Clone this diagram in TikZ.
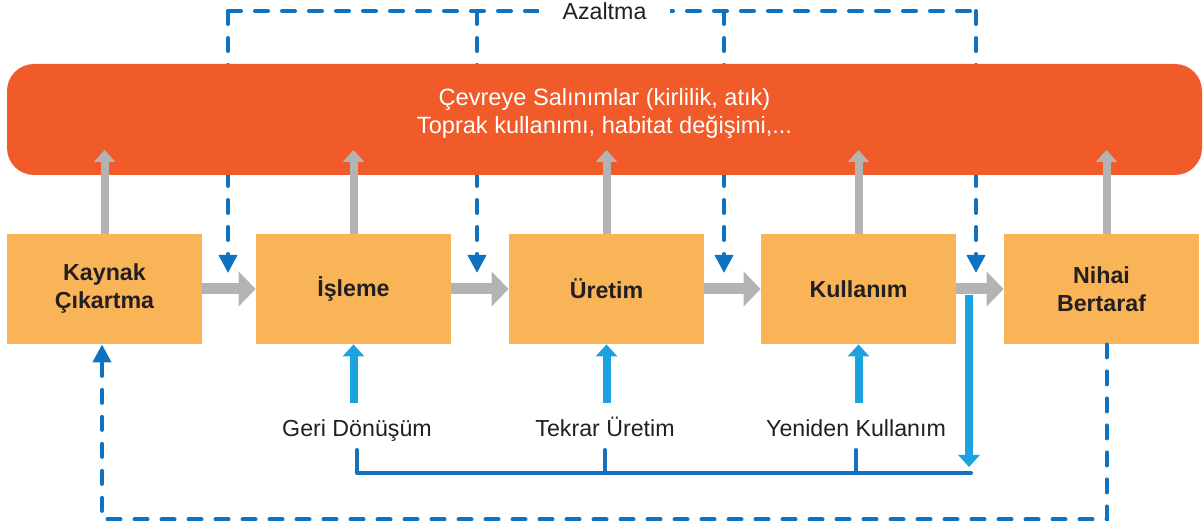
\documentclass[tikz,border=0pt]{standalone}
\usepackage{fontspec}
\setmainfont{Liberation Sans}
\usetikzlibrary{arrows.meta,calc}
\definecolor{barorange}{HTML}{F15A29}
\definecolor{boxorange}{HTML}{F9B457}
\definecolor{arrowgray}{HTML}{B3B3B3}
\definecolor{dashblue}{HTML}{0F72C0}
\definecolor{lightblue}{HTML}{1AA3DE}
\definecolor{darkblue}{HTML}{1570BE}
\definecolor{textdark}{HTML}{231F20}
\begin{document}
\begin{tikzpicture}[x=0.5pt,y=-0.5pt,
  txt/.style={font=\fontsize{11.6pt}{14pt}\selectfont, text=textdark, inner sep=0pt},
  stagebox/.style={fill=boxorange, minimum width=97.5pt, minimum height=55pt, align=center,
    font=\fontsize{11.6pt}{14pt}\selectfont\bfseries, text=textdark, inner sep=0pt},
  barshape/.style={fill=barorange, rounded corners=13.5pt, minimum width=597.5pt, minimum height=55.5pt, inner sep=0pt},
  bartxt/.style={align=center, text=white, font=\fontsize{11.8pt}{14pt}\selectfont, inner sep=0pt},
  grayarrow/.style={draw=arrowgray, line width=5.5pt, -{Triangle[width=17pt,length=8.5pt]}},
  grayup/.style={draw=arrowgray, line width=4pt, -{Triangle[width=10.5pt,length=6pt]}},
  blueup/.style={draw=lightblue, line width=4pt, -{Triangle[width=10.5pt,length=6pt]}},
  dashline/.style={draw=dashblue, line width=2pt, line cap=round, dash pattern=on 6.5pt off 7pt},
  dasharrow/.style={dashline, -{Triangle[width=9pt,length=9pt]}},
  solidline/.style={draw=darkblue, line width=2pt, line cap=round, line join=round},
]
\useasboundingbox (0,0) rectangle (1203,528);

% top "Azaltma" dashed feedback
\coordinate (t1) at (228,11);
\coordinate (t2) at (477,11);
\coordinate (t3) at (724,11);
\coordinate (t4) at (976,11);
\coordinate (d1) at (228,273);
\coordinate (d2) at (477,273);
\coordinate (d3) at (724,273);
\coordinate (d4) at (976,273);
\draw[dashline] (t1) -- (t4);
\draw[dasharrow] (t1) -- (d1);
\draw[dasharrow] (t2) -- (d2);
\draw[dasharrow] (t3) -- (d3);
\draw[dasharrow] (t4) -- (d4);
\node[txt, fill=white, inner xsep=12pt, inner ysep=2pt] (azaltma) at (604.5,11) {Azaltma};

% emissions bar
\node[barshape] (bar) at (604.5,119.5) {};
\node[bartxt] (bartext) at (604.5,113) {Çevreye Salınımlar (kirlilik, atık)\\Toprak kullanımı, habitat değişimi,...};

% stages
\node[stagebox] (kaynak) at (104.5,289) {Kaynak\\Çıkartma};
\node[stagebox] (isleme) at (353.5,289) {İşleme};
\node[stagebox] (uretim) at (606.5,289) {Üretim};
\node[stagebox] (kullanim) at (858.5,289) {Kullanım};
\node[stagebox] (nihai) at (1101.5,289) {Nihai\\Bertaraf};

% gray flow arrows
\draw[grayarrow] (kaynak.east) -- (isleme.west);
\draw[grayarrow] (isleme.east) -- (uretim.west);
\draw[grayarrow] (uretim.east) -- (kullanim.west);
\draw[grayarrow] (kullanim.east) -- (nihai.west);

\coordinate (uprow) at (0,150);
\draw[grayup] (kaynak.north) -- (kaynak.north |- uprow);
\draw[grayup] (isleme.north) -- (isleme.north |- uprow);
\draw[grayup] (uretim.north) -- (uretim.north |- uprow);
\draw[grayup] (kullanim.north) -- (kullanim.north |- uprow);
\draw[grayup] ([xshift=2.5pt]nihai.north) -- ([xshift=2.5pt]nihai.north |- uprow);

% recycling loops
\node[txt, anchor=base] (geri) at (357,437) {Geri Dönüşüm};
\node[txt, anchor=base] (tekrar) at (605,437) {Tekrar Üretim};
\node[txt, anchor=base] (yeniden) at (856,437) {Yeniden Kullanım};

\coordinate (arrowrow) at (0,403);
\draw[blueup] (isleme.south |- arrowrow) -- (isleme.south);
\draw[blueup] (uretim.south |- arrowrow) -- (uretim.south);
\draw[blueup] (kullanim.south |- arrowrow) -- (kullanim.south);

\coordinate (tickrow) at (0,450);
\coordinate (collect) at (971,473);
\draw[solidline] (geri |- tickrow) |- (collect);
\draw[solidline] (tekrar |- tickrow) -- (tekrar |- collect);
\draw[solidline] (yeniden |- tickrow) -- (yeniden |- collect);

\coordinate (split) at (969,295);
\coordinate (splitend) at (969,467);
\draw[blueup] (split) -- (splitend);

% bottom dashed return
\draw[dasharrow] ([xshift=2.5pt]nihai.south) -- ++(0,175) -| ([xshift=-1.25pt]kaynak.south);
\end{tikzpicture}
\end{document}
